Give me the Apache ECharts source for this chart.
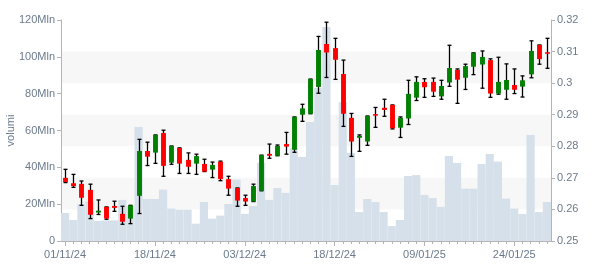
<!DOCTYPE html>
<html><head><meta charset="utf-8">
<script src="https://cdn.jsdelivr.net/npm/echarts/dist/echarts.min.js"></script>
<style>html,body{margin:0;padding:0;background:#fff}#c{width:600px;height:270px}</style>
</head><body><div id="c"></div>
<script>
const dates = ['01/11/24','04/11/24','05/11/24','06/11/24','07/11/24','08/11/24','11/11/24','12/11/24','13/11/24','14/11/24',
'15/11/24','18/11/24','19/11/24','20/11/24','21/11/24','22/11/24','25/11/24','26/11/24','27/11/24','28/11/24',
'29/11/24','02/12/24','03/12/24','04/12/24','05/12/24','06/12/24','09/12/24','10/12/24','11/12/24','12/12/24',
'13/12/24','16/12/24','17/12/24','18/12/24','19/12/24','20/12/24','23/12/24','27/12/24','30/12/24','02/01/25',
'03/01/25','06/01/25','07/01/25','08/01/25','09/01/25','10/01/25','13/01/25','14/01/25','15/01/25','16/01/25',
'17/01/25','20/01/25','21/01/25','22/01/25','23/01/25','24/01/25','27/01/25','28/01/25','29/01/25','30/01/25'];

const openP = [0.2700,0.2683,0.2681,0.2662,0.2590,0.2608,0.2611,0.2586,0.2571,0.2643,
0.2785,0.2780,0.2842,0.2748,0.2795,0.2757,0.2745,0.2744,0.2726,0.2751,
0.2696,0.2668,0.2636,0.2625,0.2659,0.2776,0.2770,0.2807,0.2789,0.2900,
0.2903,0.2988,0.3124,0.3111,0.3029,0.2890,0.2827,0.2815,0.2902,0.2922,
0.2931,0.2859,0.2888,0.2954,0.3004,0.3004,0.2958,0.3002,0.3042,0.3017,
0.3052,0.3059,0.3073,0.2967,0.2979,0.2994,0.2989,0.3028,0.3121,0.3098];

const closeP = [0.2687,0.2674,0.2637,0.2583,0.2596,0.2571,0.2605,0.2561,0.2613,0.2785,
0.2767,0.2836,0.2738,0.2801,0.2745,0.2735,0.2769,0.2720,0.2741,0.2696,
0.2666,0.2628,0.2625,0.2674,0.2772,0.2770,0.2801,0.2799,0.2893,0.2920,
0.3013,0.3105,0.3097,0.3074,0.2903,0.2815,0.2833,0.2896,0.2897,0.2915,
0.2857,0.2890,0.2966,0.3004,0.2987,0.2973,0.2991,0.3048,0.3011,0.3054,
0.3096,0.3083,0.2967,0.3004,0.3010,0.2979,0.3009,0.3102,0.3076,0.3093];

const lowP = [0.2685,0.2670,0.2613,0.2571,0.2584,0.2569,0.2594,0.2553,0.2555,0.2587,
0.2739,0.2746,0.2705,0.2743,0.2714,0.2714,0.2711,0.2720,0.2701,0.2691,
0.2645,0.2610,0.2613,0.2625,0.2659,0.2762,0.2770,0.2775,0.2781,0.2879,
0.2903,0.2968,0.3018,0.3012,0.2863,0.2768,0.2784,0.2803,0.2860,0.2895,
0.2855,0.2828,0.2869,0.2945,0.2955,0.2958,0.2949,0.2990,0.2936,0.2980,
0.3027,0.2984,0.2955,0.2965,0.2949,0.2967,0.2956,0.3017,0.3060,0.3047];

const highP = [0.2727,0.2711,0.2690,0.2680,0.2630,0.2608,0.2626,0.2610,0.2613,0.2822,
0.2813,0.2836,0.2851,0.2801,0.2795,0.2779,0.2775,0.2759,0.2750,0.2753,
0.2705,0.2668,0.2645,0.2680,0.2772,0.2807,0.2804,0.2844,0.2893,0.2933,
0.3013,0.3148,0.3193,0.3142,0.3073,0.2904,0.2836,0.2896,0.2923,0.2949,
0.2931,0.2893,0.3009,0.3020,0.3014,0.3016,0.3009,0.3120,0.3045,0.3060,
0.3096,0.3102,0.3077,0.3082,0.3061,0.3045,0.3023,0.3134,0.3121,0.3142];

// volumes in millions
const volumes = [15.2,11.4,20.0,21.5,10.9,11.2,11.2,22.3,19.0,61.9,
22.8,22.8,27.9,17.6,17.0,17.0,9.4,21.2,12.1,13.8,
20.1,33.3,14.7,19.0,42.5,22.3,28.8,26.1,50.5,45.6,
64.6,83.1,116.2,30.4,75.3,47.8,15.7,22.8,21.2,15.7,
8.1,11.4,35.3,35.8,25.0,23.3,18.5,46.2,42.4,28.4,
28.4,41.8,47.2,43.1,23.0,17.6,14.7,57.6,15.7,21.2];

const volTicks = {min: 0, max: 120, interval: 20};
const priceTicks = {min: 0.25, max: 0.32, interval: 0.01};

const candleData = dates.map((d, i) => [i, openP[i], closeP[i], lowP[i], highP[i]]);

const labelColor = '#6b7a8c';
const lineColor = '#b4b4b4';
const font = 'Arial, "Liberation Sans", sans-serif';

function renderCandle(params, api) {
  const i = api.value(0);
  const o = api.value(1), c = api.value(2), l = api.value(3), h = api.value(4);
  const bw = api.size([1, 0])[0];
  const w = Math.max(2, bw * 0.6);
  const pO = api.coord([i, o]), pC = api.coord([i, c]);
  const pL = api.coord([i, l]), pH = api.coord([i, h]);
  const x = Math.round(pO[0]) + 0.5;
  const up = c >= o;
  const top = Math.min(pO[1], pC[1]), bot = Math.max(pO[1], pC[1]);
  const capW = 2;
  const st = {stroke: '#000', lineWidth: 1.3};
  return {type: 'group', children: [
    {type: 'line', shape: {x1: x, y1: pH[1], x2: x, y2: pL[1]}, style: st},
    {type: 'line', shape: {x1: x - capW, y1: pH[1], x2: x + capW, y2: pH[1]}, style: st},
    {type: 'line', shape: {x1: x - capW, y1: pL[1], x2: x + capW, y2: pL[1]}, style: st},
    {type: 'rect', shape: {x: x - w / 2, y: top, width: w, height: Math.max(1.5, bot - top)},
     style: {fill: up ? '#008000' : '#ff0000'}}
  ]};
}

const chart = echarts.init(document.getElementById('c'), null, {renderer: 'canvas'});
chart.setOption({
  animation: false,
  backgroundColor: '#fff',
  grid: {left: 61, right: 49, top: 20, bottom: 29, containLabel: false, outerBoundsMode: 'none'},
  xAxis: [{
    type: 'category', data: dates, boundaryGap: true,
    axisLine: {lineStyle: {color: lineColor}},
    axisTick: {show: true, interval: 10, alignWithLabel: true, length: 5, lineStyle: {color: lineColor}},
    axisLabel: {interval: 10, color: labelColor, fontSize: 11, fontFamily: font, margin: 8},
    splitLine: {show: false}
  }, {
    type: 'category', data: dates, boundaryGap: true, position: 'bottom',
    axisLine: {show: false},
    axisTick: {show: true, interval: 0, alignWithLabel: true, length: 3, lineStyle: {color: lineColor}},
    axisLabel: {show: false},
    splitLine: {show: false}
  }],
  yAxis: [{
    type: 'value', position: 'left',
    min: volTicks.min, max: volTicks.max, interval: volTicks.interval,
    name: 'volumi', nameLocation: 'middle', nameGap: 45, nameMoveOverlap: false,
    nameTextStyle: {color: labelColor, fontSize: 11, fontFamily: font},
    axisLine: {show: true, lineStyle: {color: lineColor}},
    axisTick: {show: true, length: 4, lineStyle: {color: lineColor}},
    axisLabel: {color: labelColor, fontSize: 11, fontFamily: font, margin: 6,
      formatter: v => v === 0 ? '0' : v + 'Mln'},
    splitLine: {show: false}
  }, {
    type: 'value', position: 'right',
    min: priceTicks.min, max: priceTicks.max, interval: priceTicks.interval,
    axisLine: {show: true, lineStyle: {color: lineColor}},
    axisTick: {show: true, length: 4, lineStyle: {color: lineColor}},
    axisLabel: {color: labelColor, fontSize: 11, fontFamily: font, margin: 6,
      formatter: v => String(+v.toFixed(2))},
    splitLine: {show: false},
    splitArea: {show: true, areaStyle: {color: ['rgba(255,255,255,0)', '#f7f7f7']}}
  }],
  series: [{
    type: 'bar', xAxisIndex: 0, yAxisIndex: 0, data: volumes,
    barCategoryGap: 0, barGap: 0,
    itemStyle: {color: '#d6e0ea'}, z: 1
  }, {
    type: 'custom', xAxisIndex: 0, yAxisIndex: 1, data: candleData,
    renderItem: renderCandle, encode: {x: 0, y: [1, 2, 3, 4]}, z: 5
  }]
});
</script>
</body></html>
